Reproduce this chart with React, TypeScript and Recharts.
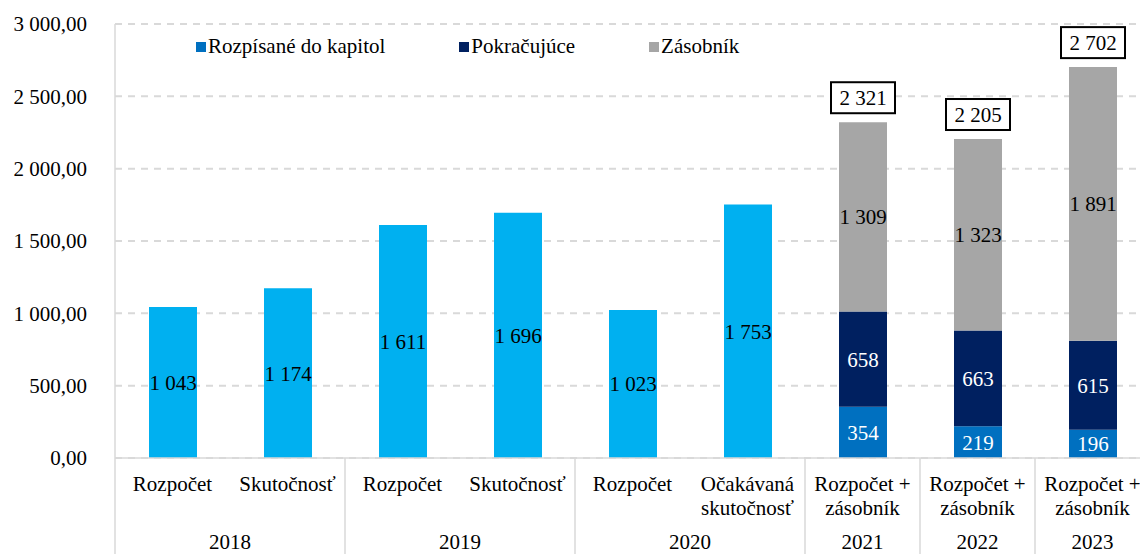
import React from 'react'
import { BarChart, Bar, XAxis, YAxis, CartesianGrid, LabelList } from 'recharts'

const kategorie = [
  'Rozpočet',
  'Skutočnosť',
  'Rozpočet',
  'Skutočnosť',
  'Rozpočet',
  'Očakávaná\nskutočnosť',
  'Rozpočet +\nzásobník',
  'Rozpočet +\nzásobník',
  'Rozpočet +\nzásobník',
]
const roky = ['2018', '2018', '2019', '2019', '2020', '2020', '2021', '2022', '2023']
const jednotlive = [1043, 1174, 1611, 1696, 1023, 1753, null, null, null]
const rozpisane = [null, null, null, null, null, null, 354, 219, 196]
const pokracujuce = [null, null, null, null, null, null, 658, 663, 615]
const zasobnik = [null, null, null, null, null, null, 1309, 1323, 1891]
const spolu = [null, null, null, null, null, null, 2321, 2205, 2702]
const yTicks = [0, 500, 1000, 1500, 2000, 2500, 3000]

const legenda = [
  { name: 'Rozpísané do kapitol', color: '#0070C0' },
  { name: 'Pokračujúce', color: '#002060' },
  { name: 'Zásobník', color: '#A6A6A6' },
]

const data = kategorie.map((k, i) => ({
  kategoria: k,
  rok: roky[i],
  jednotlive: jednotlive[i],
  rozpisane: rozpisane[i],
  pokracujuce: pokracujuce[i],
  zasobnik: zasobnik[i],
  spolu: spolu[i],
}))

const FONT = '"Liberation Serif", "Times New Roman", serif'
const W = 1160
const H = 554
const LEFT = 115
const RIGHT = 10
const BAND = (W - LEFT - RIGHT) / kategorie.length

const sk = (v: number) => String(Math.round(v)).replace(/\B(?=(\d{3})+(?!\d))/g, ' ')
const skDec = (v: number) => {
  const [a, b] = v.toFixed(2).split('.')
  return a.replace(/\B(?=(\d{3})+(?!\d))/g, ' ') + ',' + b
}
const lbl = (v: any) => (v == null ? '' : sk(v))

function XTick(props: any) {
  const { x, y, payload } = props
  const i = payload.index
  const lines = String(payload.value).split('\n')
  const rok = roky[i]
  const first = i === 0 || roky[i - 1] !== rok
  const size = roky.filter((r) => r === rok).length
  const last = i === roky.length - 1
  return (
    <g>
      {lines.map((t, j) => (
        <text key={j} x={x} y={y + 26 + j * 24} textAnchor="middle" dominantBaseline="central"
          fontSize={21} fontFamily={FONT} fill="#000">
          {t}
        </text>
      ))}
      {first && (
        <text x={x + ((size - 1) * BAND) / 2} y={y + 84} textAnchor="middle" dominantBaseline="central"
          fontSize={21} fontFamily={FONT} fill="#000">
          {rok}
        </text>
      )}
      {first && <line x1={x - BAND / 2} x2={x - BAND / 2} y1={y} y2={y + 100} stroke="#D9D9D9" strokeWidth={1.5} />}
      {last && <line x1={x + BAND / 2} x2={x + BAND / 2} y1={y} y2={y + 100} stroke="#D9D9D9" strokeWidth={1.5} />}
    </g>
  )
}

function TotalBox(props: any) {
  const { x, y, width, value } = props
  if (value == null) return null
  const cx = x + width / 2
  return (
    <g>
      <rect x={cx - 32} y={y - 40} width={64} height={31} fill="#fff" stroke="#000" strokeWidth={2} />
      <text x={cx} y={y - 24} textAnchor="middle" dominantBaseline="central" fontSize={21} fontFamily={FONT} fill="#000">
        {sk(value)}
      </text>
    </g>
  )
}

export default function App() {
  return (
    <div style={{ position: 'fixed', left: 0, top: 0, width: 1140, height: 554, overflow: 'hidden', background: '#fff' }}>
      <BarChart width={W} height={H} data={data} margin={{ top: 24, right: RIGHT, bottom: 0, left: 0 }}>
        <CartesianGrid vertical={false} stroke="#D9D9D9" strokeDasharray="7 6" strokeWidth={2} />
        <XAxis dataKey="kategoria" height={96} interval={0} tickLine={false} tickSize={0} tickMargin={0}
          axisLine={{ stroke: '#D9D9D9', strokeWidth: 1.5 }} tick={<XTick />} />
        <YAxis width={LEFT} domain={[0, 3000]} ticks={yTicks} tickFormatter={skDec} tickLine={false}
          tickSize={0} tickMargin={28} axisLine={{ stroke: '#D9D9D9', strokeWidth: 1.5 }}
          tick={{ fontSize: 21, fontFamily: FONT, fill: '#000' }} />
        <Bar dataKey="jednotlive" stackId="a" fill="#00B0F0" barSize={48} legendType="none" isAnimationActive={false}>
          <LabelList dataKey="jednotlive" position="center" formatter={lbl} fill="#000" fontSize={21} fontFamily={FONT} />
        </Bar>
        <Bar dataKey="rozpisane" name="Rozpísané do kapitol" stackId="a" fill="#0070C0" barSize={48} isAnimationActive={false}>
          <LabelList dataKey="rozpisane" position="center" formatter={lbl} fill="#fff" fontSize={21} fontFamily={FONT} />
        </Bar>
        <Bar dataKey="pokracujuce" name="Pokračujúce" stackId="a" fill="#002060" barSize={48} isAnimationActive={false}>
          <LabelList dataKey="pokracujuce" position="center" formatter={lbl} fill="#fff" fontSize={21} fontFamily={FONT} />
        </Bar>
        <Bar dataKey="zasobnik" name="Zásobník" stackId="a" fill="#A6A6A6" barSize={48} isAnimationActive={false}>
          <LabelList dataKey="zasobnik" position="center" formatter={lbl} fill="#000" fontSize={21} fontFamily={FONT} />
          <LabelList dataKey="spolu" content={<TotalBox />} />
        </Bar>
      </BarChart>
      <div style={{ position: 'absolute', left: 196, top: 34, display: 'flex', gap: 74, fontFamily: FONT, fontSize: 21, color: '#000' }}>
        {legenda.map((l) => (
          <div key={l.name} style={{ display: 'flex', alignItems: 'center', gap: 2 }}>
            <span style={{ width: 10, height: 10, background: l.color, display: 'inline-block' }} />
            <span>{l.name}</span>
          </div>
        ))}
      </div>
    </div>
  )
}
